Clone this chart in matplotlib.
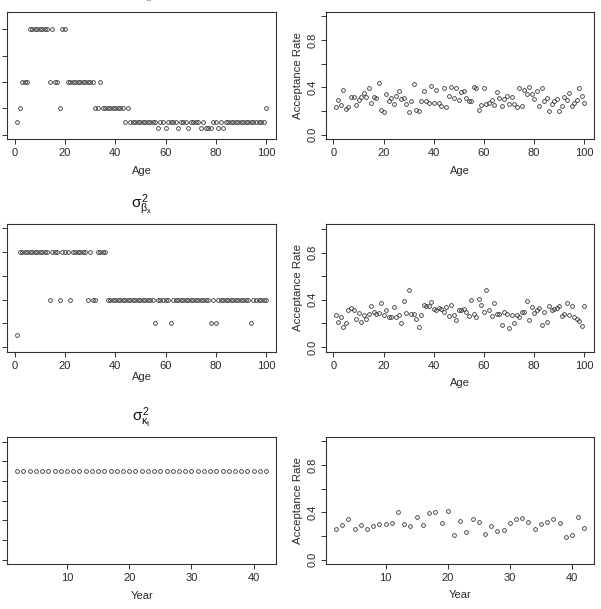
import matplotlib
matplotlib.use("Agg")
import matplotlib.pyplot as plt

plt.rcParams['font.family'] = ['Liberation Sans', 'DejaVu Sans']
plt.rcParams['mathtext.fontset'] = 'custom'
plt.rcParams['mathtext.rm'] = 'Liberation Sans'
plt.rcParams['mathtext.it'] = 'Liberation Sans'
plt.rcParams['mathtext.bf'] = 'Liberation Sans:bold'

# ---- data ----
ages = list(range(1, 101))
years = list(range(2, 43))

# proposal variances (left column)
alpha_var = [0.5, 1, 2, 2, 2, 4, 4, 4, 4, 4,
             4, 4, 4, 2, 4, 2, 2, 1, 4, 4,
             2, 2, 2, 2, 2, 2, 2, 2, 2, 2,
             2, 1, 1, 2, 1, 1, 1, 1, 1, 1,
             1, 1, 1, 0.5, 1, 0.5, 0.5, 0.5, 0.5, 0.5,
             0.5, 0.5, 0.5, 0.5, 0.5, 0.5, 0.25, 0.5, 0.5, 0.25,
             0.5, 0.5, 0.5, 0.5, 0.25, 0.5, 0.5, 0.5, 0.25, 0.5,
             0.5, 0.5, 0.5, 0.25, 0.5, 0.25, 0.25, 0.25, 0.5, 0.5,
             0.25, 0.5, 0.25, 0.5, 0.5, 0.5, 0.5, 0.5, 0.5, 0.5,
             0.5, 0.5, 0.5, 0.5, 0.5, 0.5, 0.5, 0.5, 0.5, 1]

beta_var = [0.5, 4, 4, 4, 4, 4, 4, 4, 4, 4,
            4, 4, 4, 2, 4, 4, 4, 2, 4, 4,
            4, 2, 4, 4, 4, 4, 4, 4, 2, 4,
            2, 2, 4, 4, 4, 4, 2, 2, 2, 2,
            2, 2, 2, 2, 2, 2, 2, 2, 2, 2,
            2, 2, 2, 2, 2, 1, 2, 2, 2, 2,
            2, 1, 2, 2, 2, 2, 2, 2, 2, 2,
            2, 2, 2, 2, 2, 2, 2, 1, 2, 1,
            2, 2, 2, 2, 2, 2, 2, 2, 2, 2,
            2, 2, 2, 1, 2, 2, 2, 2, 2, 2]

kappa_var = [4.5, 4.5, 4.5, 4.5, 4.5, 4.5, 4.5, 4.5, 4.5, 4.5,
             4.5, 4.5, 4.5, 4.5, 4.5, 4.5, 4.5, 4.5, 4.5, 4.5,
             4.5, 4.5, 4.5, 4.5, 4.5, 4.5, 4.5, 4.5, 4.5, 4.5,
             4.5, 4.5, 4.5, 4.5, 4.5, 4.5, 4.5, 4.5, 4.5, 4.5,
             4.5]

# acceptance rates (right column)
alpha_acc = [0.23, 0.29, 0.25, 0.38, 0.22, 0.23, 0.32, 0.32, 0.25, 0.29,
             0.32, 0.35, 0.32, 0.39, 0.27, 0.32, 0.31, 0.44, 0.21, 0.19,
             0.34, 0.28, 0.31, 0.26, 0.33, 0.37, 0.30, 0.31, 0.26, 0.19,
             0.28, 0.43, 0.21, 0.20, 0.28, 0.37, 0.28, 0.27, 0.41, 0.27,
             0.38, 0.27, 0.24, 0.39, 0.23, 0.33, 0.40, 0.31, 0.39, 0.29,
             0.36, 0.37, 0.31, 0.28, 0.28, 0.40, 0.39, 0.21, 0.25, 0.39,
             0.26, 0.27, 0.29, 0.25, 0.36, 0.31, 0.24, 0.30, 0.33, 0.26,
             0.32, 0.26, 0.23, 0.39, 0.24, 0.38, 0.34, 0.40, 0.34, 0.30,
             0.37, 0.24, 0.39, 0.28, 0.31, 0.20, 0.26, 0.28, 0.30, 0.20,
             0.24, 0.32, 0.29, 0.35, 0.24, 0.27, 0.29, 0.39, 0.33, 0.27]

beta_acc = [0.27, 0.21, 0.25, 0.17, 0.20, 0.31, 0.33, 0.31, 0.24, 0.29,
            0.21, 0.27, 0.24, 0.28, 0.35, 0.30, 0.28, 0.29, 0.37, 0.27,
            0.31, 0.25, 0.25, 0.34, 0.25, 0.27, 0.20, 0.39, 0.29, 0.48,
            0.28, 0.28, 0.24, 0.17, 0.27, 0.36, 0.35, 0.35, 0.38, 0.32,
            0.31, 0.33, 0.32, 0.30, 0.34, 0.26, 0.36, 0.27, 0.23, 0.31,
            0.31, 0.32, 0.30, 0.26, 0.40, 0.28, 0.25, 0.41, 0.36, 0.30,
            0.48, 0.31, 0.26, 0.37, 0.28, 0.28, 0.19, 0.30, 0.28, 0.16,
            0.27, 0.20, 0.27, 0.25, 0.30, 0.30, 0.39, 0.23, 0.34, 0.29,
            0.31, 0.33, 0.19, 0.30, 0.21, 0.35, 0.31, 0.32, 0.33, 0.35,
            0.26, 0.28, 0.37, 0.27, 0.35, 0.25, 0.235, 0.22, 0.18, 0.35]

kappa_acc = [0.26, 0.29, 0.34, 0.26, 0.29, 0.26, 0.28, 0.30, 0.30, 0.31,
             0.40, 0.30, 0.28, 0.36, 0.29, 0.39, 0.40, 0.31, 0.41, 0.21,
             0.33, 0.23, 0.34, 0.32, 0.22, 0.28, 0.24, 0.25, 0.31, 0.34,
             0.35, 0.32, 0.26, 0.30, 0.32, 0.34, 0.31, 0.19, 0.21, 0.36,
             0.27]

age_ticks = [0, 20, 40, 60, 80, 100]
year_ticks = [10, 20, 30, 40]
acc_ticks = [0.0, 0.2, 0.4, 0.6, 0.8, 1.0]
acc_labels = ['0.0', '', '0.4', '', '0.8', '']

W, H = 601, 609
INK = '#2a2a2a'
fig = plt.figure(figsize=(W / 100, H / 100), dpi=100)


def add_box(x0, y0, x1, y1):
    return fig.add_axes([x0 / W, 1 - y1 / H, (x1 - x0) / W, (y1 - y0) / H])


def draw(ax, x, y, xlim, ylim, xticks, yticks, ylabels, xlabel, xlab_y,
         ylabel=None, title=None):
    ax.plot(x, y, linestyle='none', marker='o', markersize=2.7,
            markerfacecolor='none', markeredgecolor='#333333',
            markeredgewidth=0.6)
    ax.set_xlim(xlim)
    ax.set_ylim(ylim)
    ax.set_xticks(xticks)
    ax.set_yticks(yticks)
    ax.set_yticklabels(ylabels, rotation=90, va='center')
    for s in ax.spines.values():
        s.set_color('#333333')
        s.set_linewidth(0.8)
    ax.tick_params(axis='both', direction='out', length=3.5, width=0.7,
                   color='#333333', labelsize=8, labelcolor=INK)
    ax.tick_params(axis='x', pad=3.0)
    ax.tick_params(axis='y', pad=2.3)
    ax.set_xlabel(xlabel, fontsize=8, color=INK, va='center')
    ax.xaxis.set_label_coords(0.5, xlab_y)
    if ylabel:
        ax.set_ylabel(ylabel, fontsize=8.2, color=INK, va='center')
        ax.yaxis.set_label_coords(-0.104, 0.5)
    if title:
        ax.text(0.5, 1.15, title, transform=ax.transAxes, ha='center',
                va='center', fontsize=11, color='#111111')


age_lim = (-2.96, 103.96)
year_lim = (0.4, 43.6)
acc_lim = (-0.04, 1.04)

# row 1
ax = add_box(7.3, 12, 276, 139)
draw(ax, ages, alpha_var, age_lim, (-0.163, 4.657), age_ticks,
     [0, 1, 2, 3, 4], [''] * 5, 'Age', -0.252,
     title=r'$\sigma^2_{\alpha_x}$')
ax = add_box(326, 11.7, 594.3, 139.3)
draw(ax, ages, alpha_acc, age_lim, acc_lim, age_ticks, acc_ticks,
     acc_labels, 'Age', -0.248, ylabel='Acceptance Rate')

# row 2
ax = add_box(7.3, 224.3, 276, 351.7)
draw(ax, ages, beta_var, age_lim, (-0.185, 5.168), age_ticks,
     [0, 1, 2, 3, 4, 5], [''] * 6, 'Age', -0.196,
     title=r'$\sigma^2_{\beta_x}$')
ax = add_box(326, 224.3, 594.3, 351.7)
draw(ax, ages, beta_acc, age_lim, acc_lim, age_ticks, acc_ticks,
     acc_labels, 'Age', -0.248, ylabel='Acceptance Rate')

# row 3
ax = add_box(7.3, 436.7, 276, 564.3)
draw(ax, years, kappa_var, year_lim, (-0.234, 6.254), year_ticks,
     [0, 1, 2, 3, 4, 5, 6], [''] * 7, 'Year', -0.248,
     title=r'$\sigma^2_{\kappa_t}$')
ax = add_box(326, 436.7, 594.3, 564.3)
draw(ax, years, kappa_acc, year_lim, acc_lim, year_ticks, acc_ticks,
     acc_labels, 'Year', -0.242, ylabel='Acceptance Rate')

fig.savefig('out.png', dpi=100)
